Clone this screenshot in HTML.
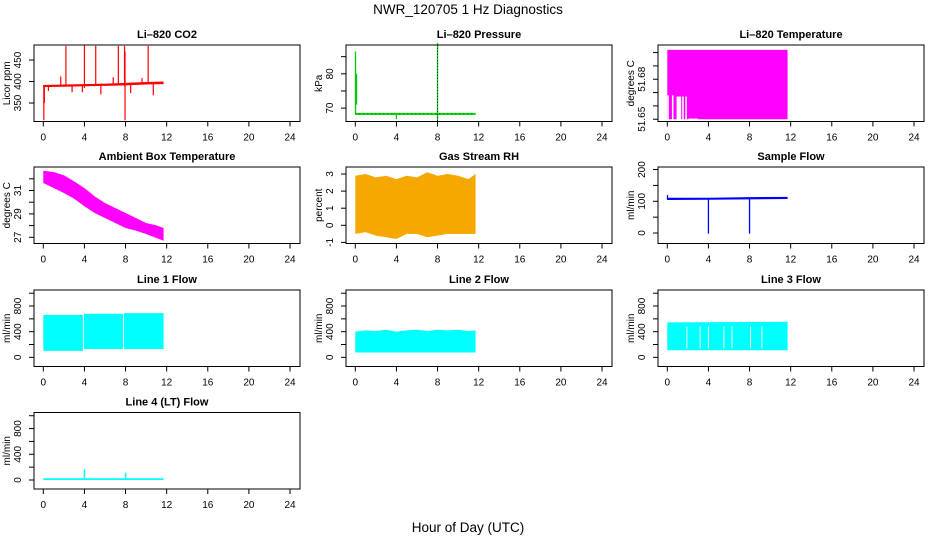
<!DOCTYPE html>
<html><head><meta charset="utf-8">
<style>
html,body{margin:0;padding:0;background:#fff;}
svg{display:block;font-family:"Liberation Sans",Arial,sans-serif;}
</style></head>
<body>
<svg id="chart" width="936" height="540" viewBox="0 0 936 540" xmlns="http://www.w3.org/2000/svg">
<text x="468" y="14" text-anchor="middle" font-size="13.5">NWR_120705  1 Hz Diagnostics</text>
<text x="468" y="532" text-anchor="middle" font-size="13.5">Hour of Day (UTC)</text>
</svg>
<script>
// ---- shared data ----
const xTicks = [0,4,8,12,16,20,24];

// CO2
const co2BandT  = [0, 2, 4, 6, 8, 10, 11.7];
const co2BandLo = [387, 388, 389, 390, 391, 393, 394];
const co2BandHi = [392, 393, 394, 395, 397, 399, 400];
const co2SpikeT  = [0.05, 0.1, 0.5, 1.7, 2.2, 2.8, 3.8, 4.0, 5.1, 5.6, 6.8, 7.3, 7.9, 7.95, 8.5, 9.6, 10.2, 10.7];
const co2SpikeLo = [310, 350, 378, 390, 390, 375, 375, 385, 390, 370, 392, 392, 390, 310, 373, 395, 395, 368];
const co2SpikeHi = [392, 392, 392, 412, 483, 392, 392, 485, 483, 395, 410, 483, 483, 470, 395, 408, 483, 398];

// Pressure
const prT  = [0, 11.7];
const prV  = [68.3, 68.3];
const prSpikeT  = [0.02, 0.12, 4.0, 8.0];
const prSpikeLo = [68.3, 71, 66.8, 66.3];
const prSpikeHi = [86.5, 80, 68.3, 89];

// Li-820 temperature
const ltBandT  = [0, 11.7];
const ltBandLo = [51.6500, 51.6500];
const ltBandHi = [51.7020, 51.7020];
const ltGapT0 = [0.0, 0.45, 0.9, 1.45, 1.75, 2.05];
const ltGapT1 = [0.15, 0.6, 1.35, 1.6, 1.9, 3.0];
const ltGapHi = [51.6680, 51.6680, 51.6670, 51.6670, 51.6670, 51.6505];

// Ambient box temperature
const abT  = [0, 1, 2, 3, 4, 5, 6, 7, 8, 9, 10, 11, 11.7];
const abHi = [32.69, 32.58, 32.30, 31.78, 31.21, 30.50, 29.93, 29.50, 29.08, 28.65, 28.22, 28.02, 27.79];
const abLo = [31.64, 31.21, 30.79, 30.30, 29.65, 29.08, 28.65, 28.22, 27.79, 27.57, 27.28, 26.94, 26.71];

// Gas stream RH
const rhT  = [0, 1, 2, 3, 4, 5, 6, 7, 8, 9, 10, 11, 11.7];
const rhHi = [2.9, 3.0, 2.8, 2.9, 2.7, 2.9, 2.8, 3.1, 2.9, 3.0, 2.9, 2.7, 3.0];
const rhLo = [-0.5, -0.4, -0.6, -0.7, -0.8, -0.5, -0.5, -0.7, -0.6, -0.5, -0.5, -0.5, -0.5];

// Sample flow
const sfT  = [0, 4, 8, 11.7];
const sfLo = [104, 105, 106, 107];
const sfHi = [111, 111, 113, 114];
const sfSpikeT  = [0.02, 4.0, 8.0];
const sfSpikeLo = [105, -2, -2];
const sfSpikeHi = [120, 110, 110];

// Line 1 flow
const l1SegT0 = [0, 3.95, 7.85];
const l1SegT1 = [3.85, 7.75, 11.7];
const l1Lo = [100, 130, 130];
const l1Hi = [660, 680, 690];

// Line 2 flow
const l2T  = [0, 1, 2, 3, 4, 5, 6, 7, 8, 9, 10, 11, 11.7];
const l2Lo = [75, 75, 75, 75, 75, 75, 75, 75, 75, 75, 75, 75, 75];
const l2Hi = [400, 420, 410, 430, 400, 420, 430, 410, 430, 420, 430, 410, 420];

// Line 3 flow
const l3T  = [0, 11.7];
const l3Lo = [110, 110];
const l3Hi = [545, 555];
const l3GapT  = [1.9, 3.2, 4.0, 5.5, 6.3, 8.1, 9.2];
const l3GapLo = [140, 140, 140, 140, 140, 140, 140];
const l3GapHi = [480, 480, 480, 480, 480, 480, 480];

// Line 4 flow
const l4T  = [0, 11.7];
const l4Lo = [0, 0];
const l4Hi = [28, 28];
const l4SpikeT  = [4.0, 8.0];
const l4SpikeHi = [165, 115];

// ---- panels ----
const svg = document.getElementById('chart');
const NS = 'http://www.w3.org/2000/svg';
const colL = [34, 346, 658];
const rowT = [45, 167, 290, 412.5];
const PW = 266, PH = 76.5;

function mk(tag, attrs, parent) {
  const e = document.createElementNS(NS, tag);
  for (const k in attrs) e.setAttribute(k, attrs[k]);
  (parent || svg).appendChild(e);
  return e;
}

function panel(name, title, ylab, col, row, vmin, vmax, yTicks, yLabels) {
  const L = colL[col], T = rowT[row], B = T + PH, R = L + PW;
  const g = mk('g', {});
  
  
  const xs = h => L + 9.3 + h * 10.28;
  const ys = v => B - (v - vmin) * PH / (vmax - vmin);
  const t = mk('text', {x: (L + R) / 2, y: T - 7, 'text-anchor': 'middle', 'font-size': '11', 'font-weight': 'bold'}, g);
  t.textContent = title;
  
  
  const yl = mk('text', {x: 0, y: 0, transform: `translate(${L - 24},${(T + B) / 2}) rotate(-90)`, 'text-anchor': 'middle', 'font-size': '10'}, g);
  yl.textContent = ylab;
  
  
  const plot = mk('g', {}, g);
  
  
  const ax = mk('g', {}, g);
  
  
  mk('rect', {x: L, y: T, width: PW, height: PH, fill: 'none', stroke: '#000', 'stroke-width': 1}, ax);
  xTicks.forEach(h => {
    const x = xs(h);
    mk('line', {x1: x, x2: x, y1: B, y2: B + 5, stroke: '#000'}, ax);
    const tl = mk('text', {x: x, y: B + 19, 'text-anchor': 'middle', 'font-size': '10'}, ax);
    tl.textContent = h;
    
    
  });
  yTicks.forEach(v => {
    const y = ys(v);
    mk('line', {x1: L - 5, x2: L, y1: y, y2: y, stroke: '#000'}, ax);
    if (yLabels.includes(v)) {
      const tl = mk('text', {x: 0, y: 0, transform: `translate(${L - 13},${y}) rotate(-90)`, 'text-anchor': 'middle', 'font-size': '10'}, ax);
      tl.textContent = v;
      
      
    }
  });
  return {g: plot, xs, ys};
}

function band(p, T, LO, HI, fill, name) {
  let d = '';
  T.forEach((t, i) => d += (i ? 'L' : 'M') + p.xs(t) + ',' + p.ys(HI[i]));
  for (let i = T.length - 1; i >= 0; i--) d += 'L' + p.xs(T[i]) + ',' + p.ys(LO[i]);
  const e = mk('path', {d: d + 'Z', fill: fill, stroke: 'none'}, p.g);
  
  
}
function spikes(p, T, LO, HI, color, w, name) {
  T.forEach((t, i) => {
    const e = mk('line', {x1: p.xs(t), x2: p.xs(t), y1: p.ys(LO[i]), y2: p.ys(HI[i]), stroke: color, 'stroke-width': w}, p.g);
    
    
  });
}

// CO2
let p = panel('co2-panel', 'Li\u2013820 CO2', 'Licor ppm', 0, 0, 307, 485, [350, 400, 450], [350, 400, 450]);
band(p, co2BandT, co2BandLo, co2BandHi, '#ff0000', 'co2-series');
spikes(p, co2SpikeT, co2SpikeLo, co2SpikeHi, '#ff0000', 1.2, 'co2-spike');

// Pressure
p = panel('pressure-panel', 'Li\u2013820 Pressure', 'kPa', 1, 0, 66.1, 88.4, [70, 75, 80, 85], [70, 80]);
band(p, prT, prV.map(v => v - 0.3), prV.map(v => v + 0.3), '#00dd00', 'pressure-series');
mk('line', {x1: p.xs(0), x2: p.xs(11.7), y1: p.ys(68.3), y2: p.ys(68.3), stroke: '#000', 'stroke-width': 0.6, 'stroke-dasharray': '1,3'}, p.g);
spikes(p, prSpikeT, prSpikeLo, prSpikeHi, '#00cc00', 1.3, 'pressure-spike');
mk('line', {x1: p.xs(8), x2: p.xs(8), y1: p.ys(66.3), y2: p.ys(89), stroke: '#000', 'stroke-width': 0.8, 'stroke-dasharray': '1,2'}, p.g);

// Li-820 temperature
p = panel('li820-temp-panel', 'Li\u2013820 Temperature', 'degrees C', 2, 0, 51.6483, 51.7057, [51.65, 51.66, 51.67, 51.68, 51.69, 51.70], [51.65, 51.68]);
band(p, ltBandT, ltBandLo, ltBandHi, '#ff00ff', 'li820-temp-series');
ltGapT0.forEach((t, i) => {
  const e = mk('rect', {x: p.xs(t), y: p.ys(ltGapHi[i]), width: Math.max(1, p.xs(ltGapT1[i]) - p.xs(t)), height: p.ys(51.6490) - p.ys(ltGapHi[i]), fill: '#fff'}, p.g);
  
  
});

// Ambient box temp
p = panel('ambient-temp-panel', 'Ambient Box Temperature', 'degrees C', 0, 1, 26.47, 33.01, [27, 28, 29, 30, 31, 32], [27, 29, 31]);
band(p, abT, abLo, abHi, '#ff00ff', 'ambient-temp-series');

// RH
p = panel('rh-panel', 'Gas Stream RH', 'percent', 1, 1, -1.064, 3.41, [-1, 0, 1, 2, 3], [-1, 0, 1, 2, 3]);
band(p, rhT, rhLo, rhHi, '#f5a800', 'rh-series');

// Sample flow
p = panel('sample-flow-panel', 'Sample Flow', 'ml/min', 2, 1, -33, 208, [0, 50, 100, 150, 200], [0, 100, 200]);
band(p, sfT, sfLo, sfHi, '#0000ff', 'sample-flow-series');
spikes(p, sfSpikeT, sfSpikeLo, sfSpikeHi, '#0000ff', 1.3, 'sample-flow-spike');

const flowTicks = [0, 200, 400, 600, 800, 1000], flowLabels = [0, 400, 800];
// Line 1
p = panel('line1-flow-panel', 'Line 1 Flow', 'ml/min', 0, 2, -143, 1050, flowTicks, flowLabels);
l1SegT0.forEach((t, i) => band(p, [t, l1SegT1[i]], [l1Lo[i], l1Lo[i]], [l1Hi[i], l1Hi[i]], '#00ffff', 'line1-flow-series'));
// Line 2
p = panel('line2-flow-panel', 'Line 2 Flow', 'ml/min', 1, 2, -143, 1050, flowTicks, flowLabels);
band(p, l2T, l2Lo, l2Hi, '#00ffff', 'line2-flow-series');
// Line 3
p = panel('line3-flow-panel', 'Line 3 Flow', 'ml/min', 2, 2, -143, 1050, flowTicks, flowLabels);
band(p, l3T, l3Lo, l3Hi, '#00ffff', 'line3-flow-series');
spikes(p, l3GapT, l3GapLo, l3GapHi, '#ffffff', 1, 'line3-flow-gap');
// Line 4
p = panel('line4-flow-panel', 'Line 4 (LT) Flow', 'ml/min', 0, 3, -140, 1050, flowTicks, flowLabels);
band(p, l4T, l4Lo, l4Hi, '#00ffff', 'line4-flow-series');
spikes(p, l4SpikeT, l4SpikeT.map(() => 0), l4SpikeHi, '#00ffff', 1.5, 'line4-flow-spike');
</script>
</body></html>
